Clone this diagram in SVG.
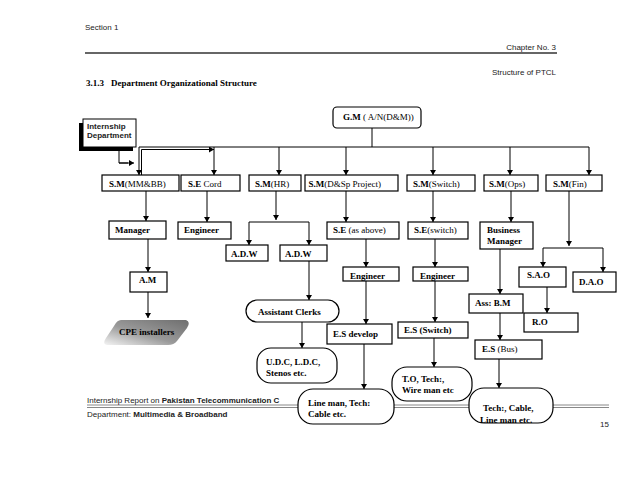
<svg xmlns="http://www.w3.org/2000/svg" width="638" height="493" viewBox="0 0 638 493">
<defs>
<marker id="ah" markerWidth="6" markerHeight="6" refX="5" refY="3" orient="auto" markerUnits="userSpaceOnUse">
<path d="M0,0 L5,3 L0,6 Z" fill="#000"/>
</marker>
<linearGradient id="cpe" x1="1" y1="0" x2="0" y2="1">
<stop offset="0" stop-color="#6e6e6e"/>
<stop offset="0.55" stop-color="#9a9a9a"/>
<stop offset="1" stop-color="#f4f4f4"/>
</linearGradient>
<style>
.hd{font-family:"Liberation Sans",Arial,sans-serif;font-size:8px;fill:#222}
.t{font-family:"Liberation Serif","Times New Roman",serif;font-size:9px;fill:#000}
.b{font-weight:bold}
.bx{fill:#fff;stroke:#000;stroke-width:1.2}
.c{fill:none;stroke:#000;stroke-width:1}
.ca{fill:none;stroke:#000;stroke-width:1;marker-end:url(#ah)}
</style>
</defs>
<rect width="638" height="493" fill="#fff"/>
<!-- header -->
<text class="hd" x="85" y="30">Section 1</text>
<text class="hd" x="556" y="50" text-anchor="end">Chapter No. 3</text>
<line x1="85" y1="53" x2="557" y2="53" stroke="#666" stroke-width="2"/>
<text class="hd" x="556" y="75" text-anchor="end">Structure of PTCL</text>
<text class="t b" x="86" y="86" font-size="9">3.1.3<tspan x="111">Department Organizational Structure</tspan></text>
<!-- footer lines -->
<g id="footer">
<line x1="87" y1="405" x2="609" y2="405" stroke="#888" stroke-width="1"/>
<line x1="87" y1="407.5" x2="609" y2="407.5" stroke="#888" stroke-width="1"/>
<text class="hd" x="87" y="403">Internship Report on <tspan class="b">Pakistan Telecommunication C</tspan></text>
<text class="hd" x="87" y="417">Department: <tspan class="b">Multimedia &amp; Broadband</tspan></text>
<text class="hd" x="600" y="427">15</text>
</g>
<!-- connectors -->
<g id="connectors">
<path class="c" d="M372,128 V147"/>
<path class="c" d="M139,147 H589"/>
<path class="ca" d="M139,147 V175"/>
<path class="ca" d="M141.5,175 V149.5 H214"/>
<path class="ca" d="M214,147 V175"/>
<path class="ca" d="M279,147 V175"/>
<path class="ca" d="M346,147 V175"/>
<path class="ca" d="M433,147 V175"/>
<path class="ca" d="M510,147 V175"/>
<path class="ca" d="M589,147 V175"/>
<path class="c" d="M119,147 V163 H128"/>
<path class="ca" d="M119,163 H134"/>
<path class="ca" d="M146,191 V221"/>
<path class="ca" d="M207,191 V222"/>
<path class="ca" d="M276,191 V220"/>
<path class="c" d="M249,222 H309"/>
<path class="ca" d="M249,222 V245"/>
<path class="ca" d="M309,222 V245"/>
<path class="ca" d="M346,191 V222"/>
<path class="ca" d="M433,191 V222"/>
<path class="ca" d="M511,191 V222"/>
<path class="ca" d="M569,191 V246"/>
<path class="c" d="M543,248 H603"/>
<path class="ca" d="M543,248 V267"/>
<path class="ca" d="M603,248 V272"/>
<path class="ca" d="M148,239 V272"/>
<path class="ca" d="M148,292 V318"/>
<path class="ca" d="M309,261 V300"/>
<path class="ca" d="M302,322 V348"/>
<path class="ca" d="M366,239 V267"/>
<path class="ca" d="M366,281 V324"/>
<path class="ca" d="M364,344 V389"/>
<path class="ca" d="M435,239 V267"/>
<path class="ca" d="M435,281 V322"/>
<path class="ca" d="M434,338 V367"/>
<path class="ca" d="M500,249 V294"/>
<path class="ca" d="M500,313 V340"/>
<path class="ca" d="M499,359 V388"/>
<path class="ca" d="M547,287 V313"/>
</g>
<!-- nodes -->
<g id="gm"><rect class="bx" x="333" y="107" width="88" height="21" rx="4"/><text class="t" x="343" y="120"><tspan class="b">G.M</tspan> ( A/N(D&amp;M))</text></g>
<g id="internship"><rect x="79" y="123" width="54" height="28" fill="#000"/><rect x="83" y="119" width="53" height="28" fill="#fff" stroke="#000" stroke-width="1"/><text class="hd b" x="87" y="129" font-size="6.5">Internship</text><text class="hd b" x="87" y="138" font-size="6.5">Department</text></g>
<g id="sm-mmbb"><rect class="bx" x="102" y="175" width="77" height="16"/><text class="t" x="109" y="187"><tspan class="b">S.M</tspan>(MM&amp;BB)</text></g>
<g id="se-cord"><rect class="bx" x="181" y="175" width="59" height="16"/><text class="t" x="188" y="187"><tspan class="b">S.E</tspan> Cord</text></g>
<g id="sm-hr"><rect class="bx" x="249" y="175" width="52" height="16"/><text class="t" x="255" y="187"><tspan class="b">S.M</tspan>(HR)</text></g>
<g id="sm-dsp"><rect class="bx" x="305" y="175" width="93" height="16"/><text class="t" x="308.5" y="187"><tspan class="b">S.M</tspan>(D&amp;Sp Project)</text></g>
<g id="sm-switch"><rect class="bx" x="407" y="175" width="68" height="16"/><text class="t" x="413" y="187"><tspan class="b">S.M</tspan>(Switch)</text></g>
<g id="sm-ops"><rect class="bx" x="484" y="175" width="54" height="16"/><text class="t" x="489" y="187"><tspan class="b">S.M</tspan>(Ops)</text></g>
<g id="sm-fin"><rect class="bx" x="546" y="175" width="56" height="16"/><text class="t" x="553" y="187"><tspan class="b">S.M</tspan>(Fin)</text></g>
<g id="manager"><rect class="bx" x="109" y="221" width="57" height="18"/><text class="t b" x="115" y="233">Manager</text></g>
<g id="engineer1"><rect class="bx" x="178" y="222" width="53" height="17"/><text class="t b" x="184" y="233">Engineer</text></g>
<g id="adw1"><rect class="bx" x="226" y="245" width="42" height="16"/><text class="t b" x="231" y="257">A.D.W</text></g>
<g id="adw2"><rect class="bx" x="280" y="245" width="47" height="16"/><text class="t b" x="285" y="257">A.D.W</text></g>
<g id="se-above"><rect class="bx" x="327" y="222" width="72" height="17"/><text class="t" x="333" y="233"><tspan class="b">S.E</tspan> (as above)</text></g>
<g id="se-switch"><rect class="bx" x="408" y="222" width="60" height="17"/><text class="t" x="414" y="233"><tspan class="b">S.E</tspan>(switch)</text></g>
<g id="bus-manager"><rect class="bx" x="480" y="222" width="53" height="27"/><text class="t b" x="487" y="233">Business</text><text class="t b" x="487" y="244">Manager</text></g>
<g id="engineer2"><rect class="bx" x="343" y="267" width="56" height="14"/><text class="t b" x="350" y="279">Engineer</text></g>
<g id="engineer3"><rect class="bx" x="413" y="267" width="55" height="14"/><text class="t b" x="420" y="279">Engineer</text></g>
<g id="sao"><rect class="bx" x="519" y="267" width="47" height="20"/><text class="t b" x="527" y="278">S.A.O</text></g>
<g id="dao"><rect class="bx" x="573" y="272" width="43" height="20"/><text class="t b" x="579" y="285">D.A.O</text></g>
<g id="ro"><rect class="bx" x="524" y="313" width="54" height="19"/><text class="t b" x="532" y="325">R.O</text></g>
<g id="ass-bm"><rect class="bx" x="469" y="294" width="54" height="19"/><text class="t b" x="475" y="306">Ass: B.M</text></g>
<g id="es-bus"><rect class="bx" x="475" y="340" width="67" height="19"/><text class="t" x="482" y="352"><tspan class="b">E.S</tspan> (Bus)</text></g>
<g id="es-develop"><rect class="bx" x="327" y="324" width="65" height="20"/><text class="t b" x="333" y="337">E.S develop</text></g>
<g id="es-switch"><rect class="bx" x="398" y="322" width="70" height="16"/><text class="t b" x="404" y="333">E.S (Switch)</text></g>
<g id="am"><rect class="bx" x="130" y="272" width="37" height="20"/><text class="t b" x="139" y="283">A.M</text></g>
<g id="cpe"><path d="M121,320 L186,320 Q191,322 187,328 L177,341 Q174,345 168,345 L107,345 Q102,344 106,338 L114,326 Q117,320 121,320 Z" fill="url(#cpe)"/><text class="t b" x="119" y="335">CPE installers</text></g>
<g id="asst-clerks"><rect class="bx" x="246" y="300" width="93" height="22" rx="11"/><text class="t b" x="258" y="315">Assistant Clerks</text></g>
<g id="udc"><rect class="bx" x="257" y="348" width="80" height="35" rx="14"/><text class="t b" x="266" y="365">U.D.C, L.D.C,</text><text class="t b" x="266" y="376">Stenos etc.</text></g>
<g id="lineman"><rect class="bx" x="298" y="389" width="96" height="35" rx="15"/><text class="t b" x="308" y="406">Line man, Tech:</text><text class="t b" x="308" y="417">Cable etc.</text></g>
<g id="to-tech"><rect class="bx" x="392" y="367" width="80" height="34" rx="15"/><text class="t b" x="402" y="382">T.O, Tech:,</text><text class="t b" x="402" y="393">Wire man etc</text></g>
<g id="tech-cable"><rect x="469" y="388" width="84" height="35" rx="15" fill="#fff"/><text class="t b" x="483" y="411">Tech:, Cable,</text><text class="t b" x="480" y="423">Line man etc.</text><rect x="469" y="388" width="84" height="35" rx="15" fill="none" stroke="#000" stroke-width="1.2"/></g>
</svg>
